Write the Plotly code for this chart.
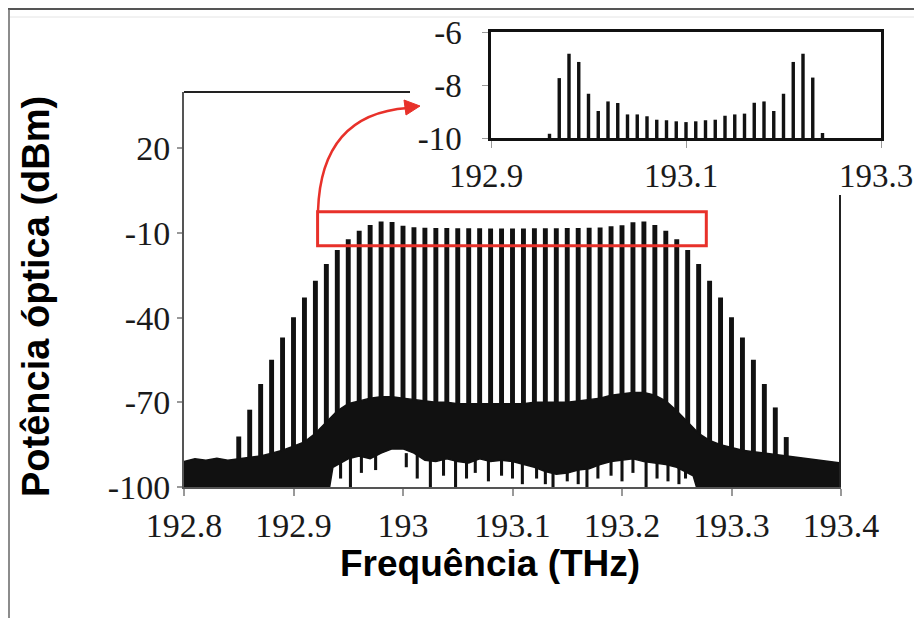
import numpy as np
import plotly.graph_objects as go

# page is 922x626; the html body has an 8 px margin, so the figure starts at (8, 8)
OFF = 8
W, H = 922 - 2 * OFF, 626 - 2 * OFF

# ---------------- data ----------------
comb_freq = [192.85, 192.86, 192.87, 192.88, 192.89, 192.90, 192.91, 192.92, 192.93, 192.94,
             192.95, 192.96, 192.97, 192.98, 192.99, 193.00, 193.01, 193.02, 193.03, 193.04,
             193.05, 193.06, 193.07, 193.08, 193.09, 193.10, 193.11, 193.12, 193.13, 193.14,
             193.15, 193.16, 193.17, 193.18, 193.19, 193.20, 193.21, 193.22, 193.23, 193.24,
             193.25, 193.26, 193.27, 193.28, 193.29, 193.30, 193.31, 193.32, 193.33, 193.34,
             193.35]
comb_power = [-82.1, -72.6, -63.5, -54.9, -47.0, -39.8, -32.8, -26.9, -21.0, -16.0,
              -12.2, -9.2, -7.1, -5.9, -6.1, -7.4, -7.9, -8.1, -8.2, -8.2,
              -8.3, -8.3, -8.3, -8.4, -8.4, -8.4, -8.4, -8.3, -8.3, -8.3,
              -8.2, -8.2, -8.1, -8.0, -7.6, -7.2, -6.2, -5.9, -7.1, -9.2,
              -12.2, -16.0, -21.0, -26.9, -32.8, -39.8, -47.0, -54.9, -63.5, -71.8,
              -82.3]

noise_top_freq = [192.80, 192.81, 192.82, 192.83, 192.84, 192.85, 192.86, 192.87, 192.88, 192.89,
                  192.90, 192.91, 192.92, 192.93, 192.94, 192.95, 192.96, 192.97, 192.98, 192.99,
                  193.00, 193.01, 193.02, 193.03, 193.04, 193.05, 193.06, 193.07, 193.08, 193.09,
                  193.10, 193.11, 193.12, 193.13, 193.14, 193.15, 193.16, 193.17, 193.18, 193.19,
                  193.20, 193.21, 193.22, 193.23, 193.24, 193.25, 193.26, 193.27, 193.28, 193.29,
                  193.30, 193.31, 193.32, 193.33, 193.34, 193.35, 193.36, 193.37, 193.38, 193.39,
                  193.40]
noise_top = [-91.0, -90.0, -90.5, -89.8, -90.5, -90.0, -89.5, -89.0, -88.0, -87.0,
             -85.5, -84.0, -81.0, -77.0, -73.0, -70.5, -69.5, -68.5, -68.0, -68.0,
             -68.5, -69.0, -69.5, -70.0, -70.0, -70.5, -70.5, -70.5, -70.5, -70.5,
             -70.5, -70.5, -70.0, -70.0, -70.0, -70.0, -69.5, -69.0, -68.5, -67.5,
             -67.0, -66.5, -66.5, -67.5, -69.5, -73.0, -77.0, -81.0, -83.5, -85.0,
             -86.0, -87.0, -87.5, -88.0, -88.5, -89.0, -89.5, -90.0, -90.5, -91.0,
             -91.5]

noise_bottom_freq = [192.80, 192.933, 192.936, 192.94, 192.95, 192.96, 192.97, 192.98, 192.99,
                     193.00, 193.01, 193.02, 193.03, 193.04, 193.05, 193.06, 193.07, 193.08,
                     193.09, 193.10, 193.11, 193.12, 193.13, 193.14, 193.15, 193.16, 193.17,
                     193.18, 193.19, 193.20, 193.21, 193.22, 193.23, 193.24, 193.25, 193.26,
                     193.265, 193.268, 193.40]
noise_bottom = [-100.0, -100.0, -93.0, -92.0, -90.0, -89.0, -90.0, -88.0, -86.5,
                -86.5, -88.0, -90.5, -91.0, -90.0, -91.0, -91.5, -90.0, -91.0,
                -90.5, -91.0, -92.0, -93.0, -94.5, -95.5, -95.0, -94.0, -93.5,
                -92.0, -91.0, -90.5, -90.0, -91.0, -91.5, -92.0, -93.0, -95.0,
                -96.0, -100.0, -100.0]

spike_freq = [192.943, 192.952, 192.962, 192.975, 193.003, 193.013, 193.025, 193.037, 193.048, 193.058,
              193.066, 193.078, 193.090, 193.100, 193.109, 193.122, 193.130, 193.137, 193.150, 193.160,
              193.168, 193.178, 193.190, 193.200, 193.210, 193.222, 193.232, 193.242, 193.252, 193.258]
spike_depth = [-97, -100, -95, -94, -93, -97, -100, -96, -100, -97,
               -95, -98, -96, -97, -99, -97, -99, -100, -98, -99,
               -100, -97, -96, -98, -95, -100, -97, -98, -99, -97]

inset_freq = [192.96, 192.97, 192.98, 192.99, 193.00, 193.01, 193.02, 193.03, 193.04, 193.05,
              193.06, 193.07, 193.08, 193.09, 193.10, 193.11, 193.12, 193.13, 193.14, 193.15,
              193.16, 193.17, 193.18, 193.19, 193.20, 193.21, 193.22, 193.23, 193.24]
inset_power = [-9.84, -7.74, -6.82, -7.13, -8.33, -8.98, -8.62, -8.68, -9.11, -9.11,
               -9.18, -9.31, -9.33, -9.37, -9.40, -9.37, -9.33, -9.31, -9.16, -9.11,
               -9.08, -8.67, -8.62, -8.98, -8.33, -7.13, -6.82, -7.72, -9.81]

main_xticks = [192.8, 192.9, 193.0, 193.1, 193.2, 193.3, 193.4]
main_xlabels = ["192.8", "192.9", "193", "193.1", "193.2", "193.3", "193.4"]
main_yticks = [-100, -70, -40, -10, 20]
main_ylabels = ["-100", "-70", "-40", "-10", "20"]
inset_xticks = [192.9, 193.1, 193.3]
inset_xlabels = ["192.9", "193.1", "193.3"]
inset_yticks = [-10, -8, -6]
inset_ylabels = ["-10", "-8", "-6"]

zoom_box = dict(f0=192.922, f1=193.277, p0=-14.5, p1=-2.4)

# ---------------- layout geometry (page pixels) ----------------
main_px = dict(x0=184, x1=841, y0=92, y1=487)
inset_px = dict(x0=491, x1=881, y0=32, y1=138)

def px(x):
    return (x - OFF) / W

def py(y):
    return 1 - (y - OFF) / H

serif = "Liberation Serif"
sans = "Liberation Sans"
ink = "#111111"

fig = go.Figure()

# noise band
poly_x = list(noise_top_freq) + list(noise_bottom_freq[::-1])
poly_y = list(noise_top) + list(noise_bottom[::-1])
fig.add_trace(go.Scatter(x=poly_x, y=poly_y, mode="lines", fill="toself",
                         fillcolor=ink, line=dict(color=ink, width=1.5),
                         hoverinfo="skip", showlegend=False))

# downward spikes of the noise
fig.add_trace(go.Bar(x=spike_freq, base=spike_depth,
                     y=[-88 - d for d in spike_depth], width=0.0028,
                     marker=dict(color=ink, line=dict(width=0)), showlegend=False))

# comb lines
comb_base = np.interp(comb_freq, noise_bottom_freq, noise_bottom) + 1.5
fig.add_trace(go.Bar(x=comb_freq, base=comb_base,
                     y=np.array(comb_power) - comb_base, width=0.0045,
                     marker=dict(color=ink, line=dict(width=0)), showlegend=False))

# inset comb lines
fig.add_trace(go.Bar(x=inset_freq, base=[-10] * len(inset_freq),
                     y=[p + 10 for p in inset_power], width=0.0035,
                     marker=dict(color=ink, line=dict(width=0)),
                     xaxis="x2", yaxis="y2", showlegend=False))

tickfont = dict(family=serif, size=34, color="#1a1a1a")
inset_font = dict(family=serif, size=33, color="#1a1a1a")

fig.update_layout(
    template="none",
    width=W, height=H,
    margin=dict(l=0, r=0, t=0, b=0, pad=0),
    paper_bgcolor="white", plot_bgcolor="white",
    barmode="overlay",
    xaxis=dict(domain=[px(main_px["x0"]), px(main_px["x1"])], range=[192.8, 193.4],
               tickvals=main_xticks, ticktext=main_xlabels, ticks="outside", ticklen=7,
               tickcolor="#999999", tickwidth=1.5, showline=True, linecolor="#555555",
               linewidth=2, showgrid=False, zeroline=False, tickfont=tickfont,
               anchor="y", automargin=False, ticklabelstandoff=0),
    yaxis=dict(domain=[py(main_px["y1"]), py(main_px["y0"])], range=[-100, 40],
               tickvals=main_yticks, ticktext=main_ylabels, ticks="outside", ticklen=5,
               tickcolor="#999999", tickwidth=1.5, showline=True, linecolor="#555555",
               linewidth=2, showgrid=False, zeroline=False, tickfont=tickfont, anchor="x",
               ticklabelstandoff=0, automargin=False),
    xaxis2=dict(domain=[px(inset_px["x0"]), px(inset_px["x1"])], range=[192.9, 193.3],
                tickvals=inset_xticks, ticktext=inset_xlabels, ticks="outside", ticklen=7,
                tickcolor="#999999", showline=True, linecolor="#111111", linewidth=2.5,
                mirror=True, showgrid=False, zeroline=False, tickfont=inset_font,
                anchor="y2", ticklabelstandoff=0, ticklabelshift=-5, automargin=False),
    yaxis2=dict(domain=[py(inset_px["y1"]), py(inset_px["y0"])], range=[-10, -6],
                tickvals=inset_yticks, ticktext=inset_ylabels, ticks="outside", ticklen=6,
                tickcolor="#999999", showline=True, linecolor="#111111", linewidth=2.5,
                mirror=True, showgrid=False, zeroline=False, tickfont=inset_font, anchor="x2",
                ticklabelstandoff=14, automargin=False),
    annotations=[
        dict(text="<b>Frequência (THz)</b>", xref="paper", yref="paper",
             x=px(490), y=py(563), xanchor="center", yanchor="middle", showarrow=False,
             font=dict(family=sans, size=37, color="#000000")),
        dict(text="<b>Potência óptica (dBm)</b>", xref="paper", yref="paper",
             x=px(36), y=py(297), xanchor="center", yanchor="middle", showarrow=False,
             textangle=-90, font=dict(family=sans, size=38, color="#000000")),
    ],
)

shapes = []
# partial frame of the main plot: top (left part) and right side
shapes.append(dict(type="line", xref="paper", yref="paper",
                   x0=px(main_px["x0"]), x1=px(410), y0=py(main_px["y0"]), y1=py(main_px["y0"]),
                   line=dict(color="#222222", width=2)))
shapes.append(dict(type="line", xref="paper", yref="paper",
                   x0=px(840), x1=px(840), y0=py(195), y1=py(main_px["y1"]),
                   line=dict(color="#222222", width=2)))
# red selection rectangle (data coords)
shapes.append(dict(type="rect", xref="x", yref="y",
                   x0=zoom_box["f0"], x1=zoom_box["f1"], y0=zoom_box["p0"], y1=zoom_box["p1"],
                   line=dict(color="#e8312a", width=3)))
# red curved arrow
sx, sy = 318, 211
cx, cy = 321, 114
ex, ey = 408, 108
shapes.append(dict(type="path", xref="paper", yref="paper",
                   path=f"M {px(sx)},{py(sy)} Q {px(cx)},{py(cy)} {px(ex)},{py(ey)}",
                   line=dict(color="#e8312a", width=2.5)))
shapes.append(dict(type="path", xref="paper", yref="paper",
                   path=f"M {px(420)},{py(106)} L {px(404)},{py(100)} L {px(406)},{py(115)} Z",
                   fillcolor="#e8312a", line=dict(color="#e8312a", width=1)))
# page border lines of the scanned figure
shapes.append(dict(type="line", xref="paper", yref="paper",
                   x0=0, x1=1, y0=py(9), y1=py(9), line=dict(color="#555555", width=2)))
shapes.append(dict(type="line", xref="paper", yref="paper",
                   x0=px(9), x1=px(9), y0=py(9), y1=0, line=dict(color="#666666", width=1.5)))
shapes.append(dict(type="line", xref="paper", yref="paper",
                   x0=px(10), x1=1, y0=py(17), y1=py(17), line=dict(color="#e4e4e4", width=1)))
fig.update_layout(shapes=shapes)

fig.write_html("out.html")
